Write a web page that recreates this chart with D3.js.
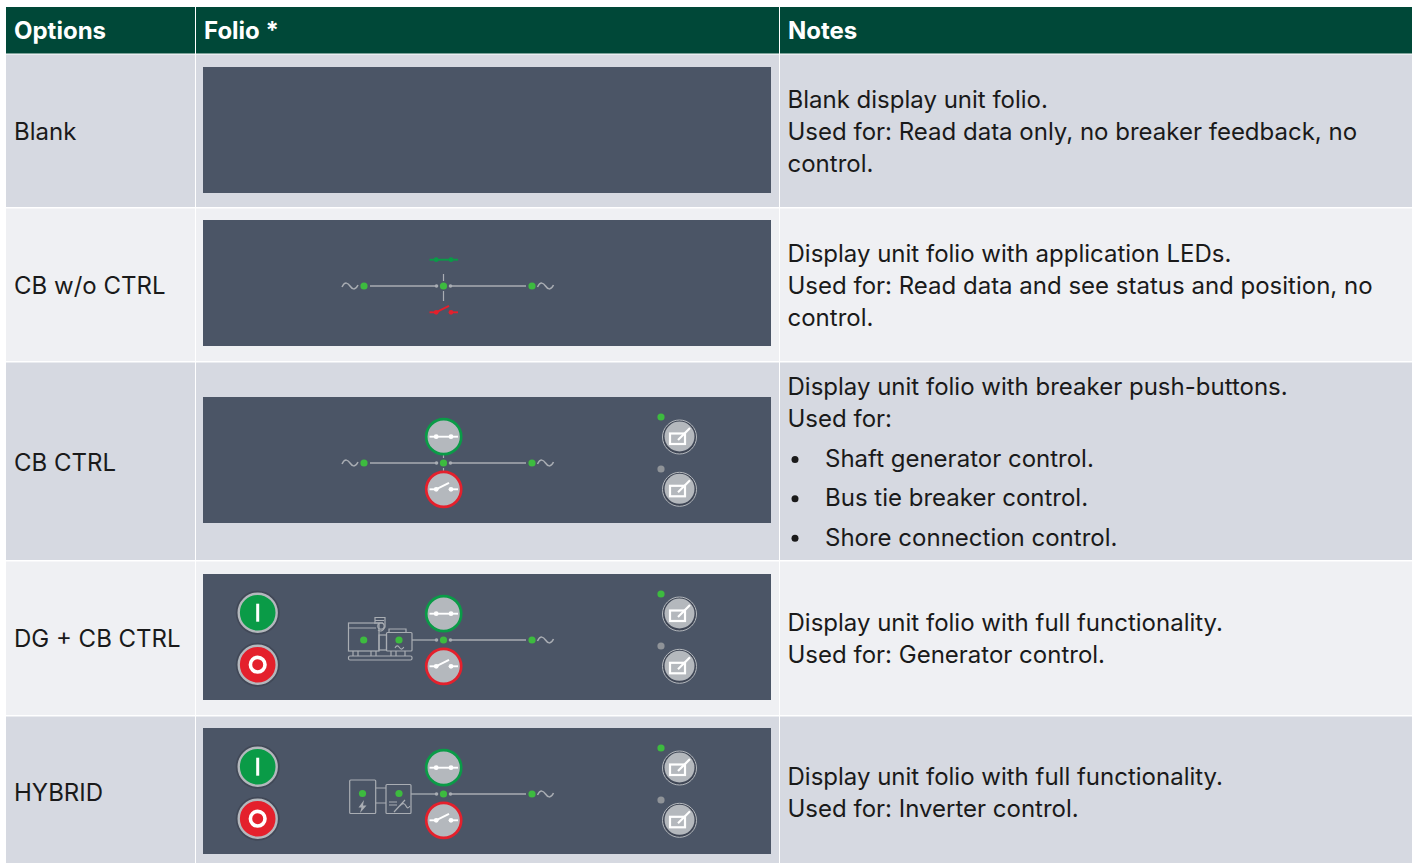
<!DOCTYPE html>
<html>
<head>
<meta charset="utf-8">
<script src="https://cdn.jsdelivr.net/npm/d3@7/dist/d3.min.js"></script>
<style>
  html, body { margin: 0; background: #fff; }
  svg { display: block; }
  text { font-family: Inter, "Noto Sans", sans-serif; }
</style>
</head>
<body>
<svg></svg>
<script>
// table content
let columns = ['Options', 'Folio *', 'Notes']
let options = ['Blank', 'CB w/o CTRL', 'CB CTRL', 'DG + CB CTRL', 'HYBRID']
let notes = [
  ['Blank display unit folio.', 'Used for: Read data only, no breaker feedback, no', 'control.'],
  ['Display unit folio with application LEDs.', 'Used for: Read data and see status and position, no', 'control.'],
  ['Display unit folio with breaker push-buttons.', 'Used for:'],
  ['Display unit folio with full functionality.', 'Used for: Generator control.'],
  ['Display unit folio with full functionality.', 'Used for: Inverter control.']
]
let bullets = ['Shaft generator control.', 'Bus tie breaker control.', 'Shore connection control.']

// what each folio shows
let withLine = ['CB w/o CTRL', 'CB CTRL', 'DG + CB CTRL', 'HYBRID']
let withLedIcons = ['CB w/o CTRL']
let withBreakerButtons = ['CB CTRL', 'DG + CB CTRL', 'HYBRID']
let withStartStop = ['DG + CB CTRL', 'HYBRID']

// layout
let svgWidth = 1416
let svgHeight = 863
let green = '#0a9b47', red = '#e4202c', led = '#3dbb3f', wire = '#a9adb3', btn = '#b4b8bd'

let colX = d3.scaleOrdinal().domain(columns).range([6, 196, 780])
let colEnd = d3.scaleOrdinal().domain(columns).range([195, 779, 1412])
let rowY = d3.scaleOrdinal().domain(options).range([54.5, 208.5, 362.5, 561.5, 716.5])
let rowEnd = d3.scaleOrdinal().domain(options).range([207, 361, 560, 715, 863])
let panelY = d3.scaleOrdinal().domain(options).range([67, 220, 397, 574, 728])
let optionBase = d3.scaleOrdinal().domain(options).range([140, 294, 471, 647, 801])
let noteBase = d3.scaleOrdinal().domain(options).range([107.5, 261.5, 394.5, 630.5, 784.5])
let bulletBase = d3.scaleBand().domain(bullets).range([447.5, 565.5])

let svg = d3.select('svg').attr('width', svgWidth).attr('height', svgHeight)

function drawTable() {
  svg.selectAll('rect.head').data(columns).enter().append('rect')
    .attr('class', 'head')
    .attr('x', d => colX(d)).attr('y', 7)
    .attr('width', d => colEnd(d) - colX(d)).attr('height', 46.5)
    .attr('fill', '#004838')

  svg.selectAll('text.head').data(columns).enter().append('text')
    .attr('class', 'head')
    .attr('x', d => colX(d) + 8).attr('y', 39)
    .attr('fill', '#fff').attr('font-size', 24).attr('font-weight', 700)
    .text(d => d)

  options.forEach(function(opt, i) {
    let fill = i % 2 === 0 ? '#d6d9e1' : '#eff0f3'
    let row = svg.append('g').attr('class', 'row')
    row.selectAll('rect').data(columns).enter().append('rect')
      .attr('x', d => colX(d)).attr('y', rowY(opt))
      .attr('width', d => colEnd(d) - colX(d)).attr('height', rowEnd(opt) - rowY(opt))
      .attr('fill', fill)
    row.append('text')
      .attr('x', 14).attr('y', optionBase(opt))
      .attr('fill', '#1a1a1a').attr('font-size', 24)
      .text(opt)
    row.selectAll('text.note').data(notes[i]).enter().append('text')
      .attr('class', 'note')
      .attr('x', 787.5).attr('y', (d, k) => noteBase(opt) + k * 32)
      .attr('fill', '#1a1a1a').attr('font-size', 24)
      .text(d => d)
  })

  let b = svg.append('g').selectAll('g').data(bullets).enter().append('g')
  b.append('circle')
    .attr('cx', 795).attr('cy', d => bulletBase(d) + 12).attr('r', 3.5).attr('fill', '#1a1a1a')
  b.append('text')
    .attr('x', 825).attr('y', d => bulletBase(d) + 19.5)
    .attr('fill', '#1a1a1a').attr('font-size', 24)
    .text(d => d)
}

function line(g, x1, y1, x2, y2, color, w) {
  return g.append('line').attr('x1', x1).attr('y1', y1).attr('x2', x2).attr('y2', y2)
    .attr('stroke', color).attr('stroke-width', w)
}

function dot(g, x, y, r, color) {
  return g.append('circle').attr('cx', x).attr('cy', y).attr('r', r).attr('fill', color)
}

function tilde(g, x, y, color, w) {
  g.append('path')
    .attr('d', `M${x},${y + 1} C${x + 3},${y - 5} ${x + 6},${y - 3} ${x + 8},${y} S${x + 13},${y + 5} ${x + 16},${y - 1}`)
    .attr('fill', 'none').attr('stroke', color || wire).attr('stroke-width', w || 1.5)
}

function closedIcon(g, y, color) {
  line(g, 429.5, y, 458, y, color, 1.9)
  dot(g, 436.2, y, 2.4, color)
  dot(g, 451, y, 2.4, color)
}

function openIcon(g, y, color) {
  line(g, 429.5, y, 436, y, color, 1.9)
  line(g, 436, y, 449, y - 6.5, color, 1.9)
  line(g, 451, y, 458, y, color, 1.9)
  dot(g, 436.2, y, 2.4, color)
  dot(g, 451, y, 2.4, color)
}

function softKey(g, ledY, y, ledColor) {
  dot(g, 661, ledY, 3.6, ledColor)
  g.append('circle').attr('cx', 679.5).attr('cy', y).attr('r', 17)
    .attr('fill', '#3f4655').attr('stroke', btn).attr('stroke-width', 1)
  dot(g, 679.5, y - 0.5, 15, btn)
  g.append('rect').attr('x', 670).attr('y', y - 3.5).attr('width', 15).attr('height', 10.5)
    .attr('fill', 'none').attr('stroke', '#fff').attr('stroke-width', 2.2)
  line(g, 678, y + 3, 690, y - 9, '#fff', 2.2)
}

function breakerButton(g, y, color, icon) {
  g.append('circle').attr('cx', 443.7).attr('cy', y).attr('r', 17.5)
    .attr('fill', btn).attr('stroke', color).attr('stroke-width', 2.7)
  icon(g, y, '#fff')
}

function startStop(g, t) {
  let y1 = t + 38.7, y2 = t + 90.7
  dot(g, 257.7, y1, 22, '#414857')
  dot(g, 257.7, y2, 22, '#414857')
  g.append('circle').attr('cx', 257.7).attr('cy', y1).attr('r', 19)
    .attr('fill', green).attr('stroke', btn).attr('stroke-width', 2.4)
  g.append('circle').attr('cx', 257.7).attr('cy', y2).attr('r', 19)
    .attr('fill', red).attr('stroke', btn).attr('stroke-width', 2.4)
  g.append('rect').attr('x', 256.2).attr('y', y1 - 9).attr('width', 3).attr('height', 18).attr('fill', '#fff')
  g.append('circle').attr('cx', 257.7).attr('cy', y2).attr('r', 7.3)
    .attr('fill', 'none').attr('stroke', '#fff').attr('stroke-width', 3.6)
}

function generator(g, t) {
  let s = g.append('g').attr('fill', 'none').attr('stroke', wire).attr('stroke-width', 1.2)
  s.append('rect').attr('x', 348.5).attr('y', t + 49).attr('width', 30.5).attr('height', 28)
  s.append('path').attr('d', `M348.5,${t + 54} H376 M375,${t + 50} V${t + 43.5} H385 V${t + 53} Q382,${t + 59} 378,${t + 56}`)
  s.append('path').attr('d', `M375,${t + 46.5} H384 M376,${t + 49} H383`)
  s.append('circle').attr('cx', 381).attr('cy', t + 52).attr('r', 3.2)
  s.append('rect').attr('x', 379).attr('y', t + 61).attr('width', 7.5).attr('height', 15)
  s.append('rect').attr('x', 386.5).attr('y', t + 58.5).attr('width', 25.5).attr('height', 18.5).attr('rx', 1)
  s.append('path').attr('d', `M389,${t + 58.5} V${t + 55} H406 V${t + 58.5}`)
  s.append('rect').attr('x', 348.5).attr('y', t + 82).attr('width', 63.5).attr('height', 4).attr('rx', 1.5)
  s.append('path').attr('d', `M353,${t + 77} V${t + 82} M358,${t + 77} V${t + 82} M371,${t + 77} V${t + 82} M376,${t + 77} V${t + 82} M391,${t + 77} V${t + 82} M396,${t + 77} V${t + 82} M405,${t + 77} V${t + 82}`)
  dot(g, 363.7, t + 66, 3.6, led)
  dot(g, 399, t + 66, 3.6, led)
  tilde(g.append('g').attr('transform', 'translate(395,' + (t + 73.5) + ') scale(0.55)'), 0, 0, wire, 2)
}

function hybrid(g, t) {
  let s = g.append('g').attr('fill', 'none').attr('stroke', wire).attr('stroke-width', 1.2)
  s.append('rect').attr('x', 349.7).attr('y', t + 52).attr('width', 26).attr('height', 33.5).attr('rx', 1)
  s.append('rect').attr('x', 386).attr('y', t + 56.5).attr('width', 25).attr('height', 29).attr('rx', 1)
  s.append('path').attr('d', `M375.7,${t + 60} H386 M375.7,${t + 75} H386`)
  dot(g, 362.5, t + 65.5, 3.6, led)
  dot(g, 399, t + 65.5, 3.6, led)
  g.append('path')
    .attr('d', `M364,${t + 72} L358.5,${t + 79.5} H361.5 L360,${t + 85} L366.5,${t + 77.5} H363 Z`)
    .attr('fill', wire)
  s.append('path').attr('d', `M389,${t + 74} H397 M389,${t + 77} H397 M394,${t + 84} L405,${t + 72} M400,${t + 78} C403,${t + 74} 405,${t + 76} 406,${t + 78} S408,${t + 81} 410,${t + 78}`)
}

function drawFolio(opt) {
  let t = panelY(opt)
  let g = svg.append('g').attr('class', 'folio')
  g.append('rect').attr('x', 203).attr('y', t).attr('width', 568).attr('height', 126).attr('fill', '#4b5566')

  if (!withLine.includes(opt)) return
  let y = t + 66

  // main bus
  let leftEnd = 370
  if (opt === 'DG + CB CTRL') leftEnd = 412
  if (opt === 'HYBRID') leftEnd = 411
  line(g, leftEnd, y, 436, y, wire, 1.3)
  line(g, 451, y, 526, y, wire, 1.3)
  dot(g, 436.5, y, 1.8, wire)
  dot(g, 450.5, y, 1.8, wire)
  dot(g, 443.5, y, 3.6, led)
  dot(g, 532, y, 3.6, led)
  tilde(g, 537.5, y)

  if (opt === 'CB w/o CTRL' || opt === 'CB CTRL') {
    dot(g, 364, y, 3.6, led)
    tilde(g, 342, y)
    line(g, 443.5, y - 12, 443.5, y - 5, wire, 1.2)
    line(g, 443.5, y + 5, 443.5, y + 15, wire, 1.2)
  }
  if (withLedIcons.includes(opt)) {
    closedIcon(g, t + 39.7, green)
    openIcon(g, t + 92.3, red)
  }
  if (withBreakerButtons.includes(opt)) {
    breakerButton(g, t + 39.7, green, closedIcon)
    breakerButton(g, t + 92.3, red, openIcon)
    softKey(g, t + 20, t + 40, led)
    softKey(g, t + 72, t + 92.3, '#8f9398')
  }
  if (withStartStop.includes(opt)) startStop(g, t)
  if (opt === 'DG + CB CTRL') generator(g, t)
  if (opt === 'HYBRID') hybrid(g, t)
}

drawTable()
options.forEach(drawFolio)
</script>
</body>
</html>
